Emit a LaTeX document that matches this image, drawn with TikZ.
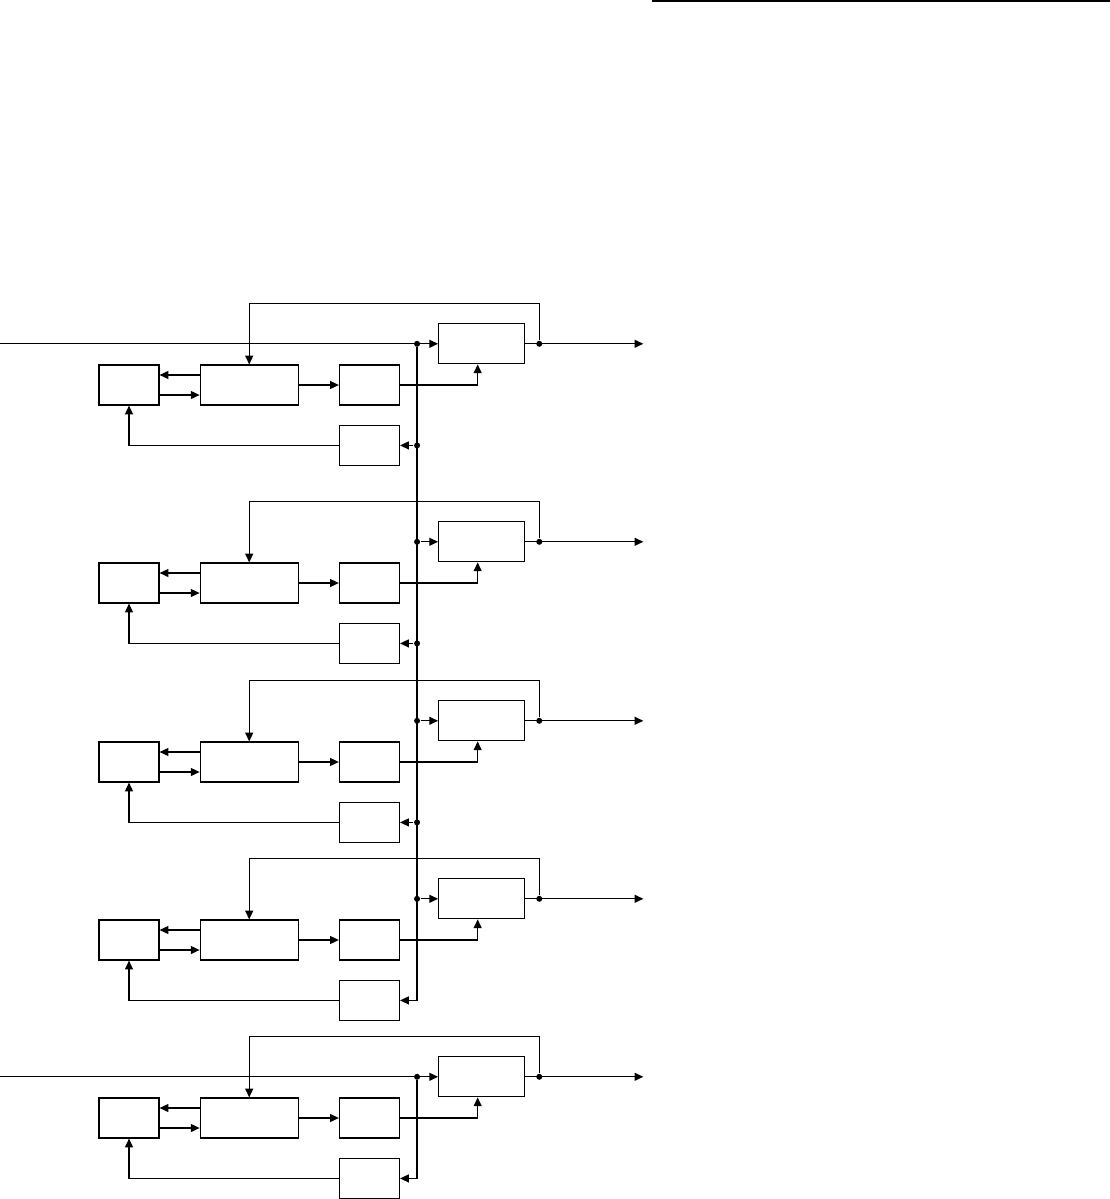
\documentclass[tikz,border=0pt]{standalone}
\usepackage{tikz}
\usetikzlibrary{arrows.meta, positioning}

\begin{document}
\begin{tikzpicture}[
    x=0.025cm, y=-0.025cm,
    line width=0.85pt,
    node distance=1cm,
    block/.style={rectangle, draw, minimum width=1.5cm, minimum height=1cm, inner sep=0pt},
    wide/.style={block, minimum width=2.45cm},
    outblock/.style={block, minimum width=2.15cm},
    arrow/.style={-{Triangle[length=2.2mm, width=2mm]}},
    dot/.style={circle, fill, inner sep=0pt, minimum size=1.5mm}
  ]
    \useasboundingbox (0,0) rectangle (1110,1199);
    \coordinate (edge) at (0,0);

    % Rule at the top right
    \draw[line width=1.6pt] (652,1.2) -- (1110,1.2);

    % Module 1
    \node[block] (a1) at (129,385) {};
    \node[wide, right=of a1] (b1) {};
    \node[block, right=of b1] (c1) {};
    \node[block, below=0.48cm of c1] (d1) {};
    \node[outblock, above right=0cm and 0.95cm of c1] (r1) {};
    \coordinate (in1) at (r1.west -| edge);
    \node[dot] (j1) at ([xshift=-0.525cm]r1.west) {};
    \node[dot] (k1) at (j1 |- d1.east) {};
    \node[dot] (o1) at ([xshift=0.35cm]r1.east) {};
    \coordinate (e1) at ([xshift=2.95cm]r1.east);

    % Module 2
    \node[block] (a2) at (129,583) {};
    \node[wide, right=of a2] (b2) {};
    \node[block, right=of b2] (c2) {};
    \node[block, below=0.48cm of c2] (d2) {};
    \node[outblock, above right=0cm and 0.95cm of c2] (r2) {};
    \node[dot] (j2) at ([xshift=-0.525cm]r2.west) {};
    \node[dot] (k2) at (j2 |- d2.east) {};
    \node[dot] (o2) at ([xshift=0.35cm]r2.east) {};
    \coordinate (e2) at ([xshift=2.95cm]r2.east);

    % Module 3
    \node[block] (a3) at (129,762) {};
    \node[wide, right=of a3] (b3) {};
    \node[block, right=of b3] (c3) {};
    \node[block, below=0.48cm of c3] (d3) {};
    \node[outblock, above right=0cm and 0.95cm of c3] (r3) {};
    \node[dot] (j3) at ([xshift=-0.525cm]r3.west) {};
    \node[dot] (k3) at (j3 |- d3.east) {};
    \node[dot] (o3) at ([xshift=0.35cm]r3.east) {};
    \coordinate (e3) at ([xshift=2.95cm]r3.east);

    % Module 4
    \node[block] (a4) at (129,940) {};
    \node[wide, right=of a4] (b4) {};
    \node[block, right=of b4] (c4) {};
    \node[block, below=0.48cm of c4] (d4) {};
    \node[outblock, above right=0cm and 0.95cm of c4] (r4) {};
    \node[dot] (j4) at ([xshift=-0.525cm]r4.west) {};
    \node[dot] (o4) at ([xshift=0.35cm]r4.east) {};
    \coordinate (e4) at ([xshift=2.95cm]r4.east);

    % Module 5
    \node[block] (a5) at (129,1118) {};
    \node[wide, right=of a5] (b5) {};
    \node[block, right=of b5] (c5) {};
    \node[block, below=0.48cm of c5] (d5) {};
    \node[outblock, above right=0cm and 0.95cm of c5] (r5) {};
    \coordinate (in5) at (r5.west -| edge);
    \node[dot] (j5) at ([xshift=-0.525cm]r5.west) {};
    \node[dot] (o5) at ([xshift=0.35cm]r5.east) {};
    \coordinate (e5) at ([xshift=2.95cm]r5.east);

    % Arrows - inputs and bus
    \draw[arrow] (in1) -- (r1);
    \draw[arrow] (in5) -- (r5);
    \draw[arrow] (j1) |- (d4);
    \draw[arrow] (j5) |- (d5);
    \draw[arrow] (j2) -- (r2);
    \draw[arrow] (j3) -- (r3);
    \draw[arrow] (j4) -- (r4);
    \draw[arrow] (k1) -- (d1);
    \draw[arrow] (k2) -- (d2);
    \draw[arrow] (k3) -- (d3);

    % Arrows - Module 1
    \draw[arrow] (r1.east) -- (e1);
    \draw[arrow] (o1) -- ++(0,1cm) -| (b1);
    \draw[arrow] ([yshift=0.25cm]b1.west) -- ([yshift=0.25cm]a1.east);
    \draw[arrow] ([yshift=-0.25cm]a1.east) -- ([yshift=-0.25cm]b1.west);
    \draw[arrow] (b1) -- (c1);
    \draw[arrow] (c1) -| ([xshift=-0.1cm]r1.south);
    \draw[arrow] (d1) -| (a1);

    % Arrows - Module 2
    \draw[arrow] (r2.east) -- (e2);
    \draw[arrow] (o2) -- ++(0,1cm) -| (b2);
    \draw[arrow] ([yshift=0.25cm]b2.west) -- ([yshift=0.25cm]a2.east);
    \draw[arrow] ([yshift=-0.25cm]a2.east) -- ([yshift=-0.25cm]b2.west);
    \draw[arrow] (b2) -- (c2);
    \draw[arrow] (c2) -| ([xshift=-0.1cm]r2.south);
    \draw[arrow] (d2) -| (a2);

    % Arrows - Module 3
    \draw[arrow] (r3.east) -- (e3);
    \draw[arrow] (o3) -- ++(0,1cm) -| (b3);
    \draw[arrow] ([yshift=0.25cm]b3.west) -- ([yshift=0.25cm]a3.east);
    \draw[arrow] ([yshift=-0.25cm]a3.east) -- ([yshift=-0.25cm]b3.west);
    \draw[arrow] (b3) -- (c3);
    \draw[arrow] (c3) -| ([xshift=-0.1cm]r3.south);
    \draw[arrow] (d3) -| (a3);

    % Arrows - Module 4
    \draw[arrow] (r4.east) -- (e4);
    \draw[arrow] (o4) -- ++(0,1cm) -| (b4);
    \draw[arrow] ([yshift=0.25cm]b4.west) -- ([yshift=0.25cm]a4.east);
    \draw[arrow] ([yshift=-0.25cm]a4.east) -- ([yshift=-0.25cm]b4.west);
    \draw[arrow] (b4) -- (c4);
    \draw[arrow] (c4) -| ([xshift=-0.1cm]r4.south);
    \draw[arrow] (d4) -| (a4);

    % Arrows - Module 5
    \draw[arrow] (r5.east) -- (e5);
    \draw[arrow] (o5) -- ++(0,1cm) -| (b5);
    \draw[arrow] ([yshift=0.25cm]b5.west) -- ([yshift=0.25cm]a5.east);
    \draw[arrow] ([yshift=-0.25cm]a5.east) -- ([yshift=-0.25cm]b5.west);
    \draw[arrow] (b5) -- (c5);
    \draw[arrow] (c5) -| ([xshift=-0.1cm]r5.south);
    \draw[arrow] (d5) -| (a5);

  \end{tikzpicture}
\end{document}
